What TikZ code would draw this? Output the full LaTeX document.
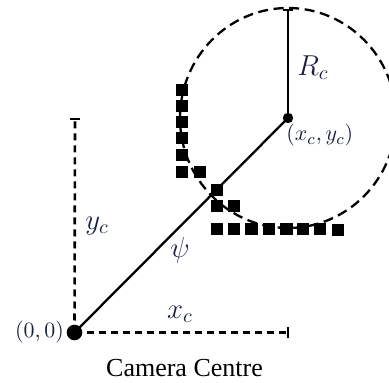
\documentclass[tikz,border=0pt]{standalone}
\usepackage{amsmath,amssymb}
\usepackage{fontspec}
\newfontfamily\captionfont{Liberation Serif}
\usepackage{tikz}
\usetikzlibrary{positioning,calc}

\definecolor{labelblue}{RGB}{26,32,64}

\begin{document}
\begin{tikzpicture}[
    x=0.5pt, y=-0.5pt,
    dot/.style={circle, fill=black, inner sep=0pt},
    ray/.style={line width=1.15pt},
    guide/.style={line width=1.3pt, dash pattern=on 3.5pt off 2.5pt},
    rim/.style={line width=1.15pt, dash pattern=on 5pt off 2.8pt},
    pix/.style={rectangle, fill=black, minimum size=6.4pt, inner sep=0pt},
    lbl/.style={text=labelblue, font=\fontsize{14}{16}\selectfont},
    coord/.style={text=labelblue, inner sep=1pt, font=\fontsize{11}{13}\selectfont}
]
\useasboundingbox (0,0) rectangle (389,383);

% Points
\node[dot, minimum size=7.8pt] (O) at (74.5,332.5) {};
\node[dot, minimum size=5.2pt] (C) at (288,118) {};
\coordinate (Ctop) at (288,10);
\coordinate (Ytop) at (75,119);
\coordinate (Xend) at (288,332.5);

% Dashed circle round the centre
\draw[rim] (C.center) circle[x radius=108, y radius=110];

% Lines
\draw[ray] (O.center) -- (C.center);
\draw[ray] (C.center) -- (Ctop);
\draw[ray] (Ctop) ++(-5,0) -- ++(10,0);
\draw[guide] (O.center) -- (Ytop);
\draw[ray] (Ytop) ++(-5,0) -- ++(10,0);
\draw[guide] (O.center) -- (Xend);
\draw[ray] (Xend) ++(0,-5) -- ++(0,10);

% Pixels
\foreach \px/\py [count=\i] in {182/90, 182/106, 182/122, 182/138, 182/155, 182/172,
    200/172, 217/190, 217/206, 234/206,
    217/229, 234/229, 251.5/229, 269/229, 286.5/229, 303/229, 320/229, 338/230}
    \node[pix] (p\i) at (\px,\py) {};

% Labels
\node[coord, left=0pt of O] (Olabel) {$(0,0)$};
\node[coord, anchor=north west] (Clabel) at (C.south west) {$(x_c,y_c)$};
\node[lbl] (Rc) at (313,68) {$R_c$};
\node[lbl] (xc) at (180,314) {$x_c$};
\node[lbl] (yc) at (97,226) {$y_c$};
\node[lbl] (psi) at (180,250) {$\psi$};
\node[font=\captionfont\fontsize{13}{15}\selectfont] (cam) at (184.5,368) {Camera Centre};

\end{tikzpicture}
\end{document}
